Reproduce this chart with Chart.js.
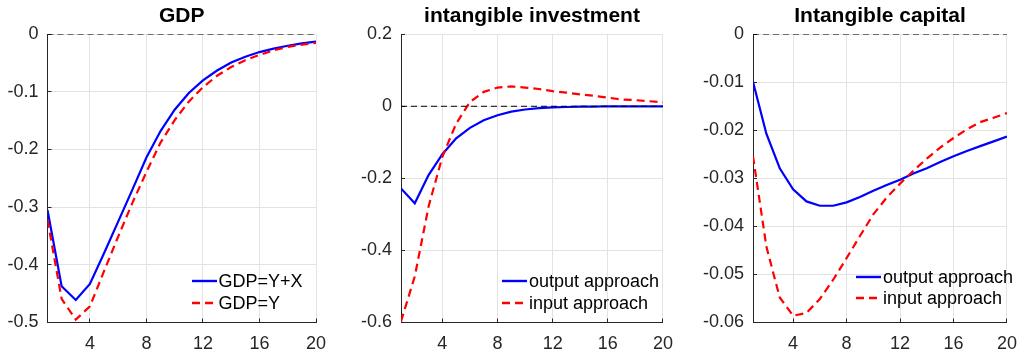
<!DOCTYPE html>
<html>
<head>
<meta charset="utf-8">
<script src="https://cdn.jsdelivr.net/npm/chart.js@4/dist/chart.umd.min.js"></script>
<style>
  body { margin: 0; background: #fff; }
  #wrap { position: relative; width: 1032px; height: 352px; font-family: "Liberation Sans", Arial, sans-serif; }
  .panel { position: absolute; top: 0; width: 344px; height: 352px; }
  .legend { position: absolute; font-size: 18px; color: #000; }
  .legend div { position: absolute; white-space: nowrap; height: 22px; line-height: 22px; }
  .legend svg { position: absolute; left: 0; top: 0; }
  .legend span { position: absolute; top: 0; }
</style>
</head>
<body>
<div id="wrap">
  <div class="panel" style="left:0"><canvas id="gdpChart" width="344" height="352"></canvas></div>
  <div class="panel" style="left:344px"><canvas id="invChart" width="344" height="352"></canvas></div>
  <div class="panel" style="left:688px"><canvas id="capChart" width="344" height="352"></canvas></div>
</div>
<script>
const periods = [1, 2, 3, 4, 5, 6, 7, 8, 9, 10, 11, 12, 13, 14, 15, 16, 17, 18, 19, 20];
const xTicks = [4, 8, 12, 16, 20];

// GDP
const gdpYX = [-0.305, -0.437, -0.461, -0.433, -0.380, -0.325, -0.270, -0.214, -0.168, -0.131,
  -0.102, -0.080, -0.063, -0.049, -0.039, -0.031, -0.025, -0.020, -0.016, -0.013];
const gdpY = [-0.322, -0.459, -0.495, -0.472, -0.411, -0.351, -0.293, -0.239, -0.188, -0.149,
  -0.117, -0.092, -0.072, -0.057, -0.045, -0.036, -0.028, -0.022, -0.018, -0.015];
const gdpTicks = [-0.5, -0.4, -0.3, -0.2, -0.1, 0];

// intangible investment
const invOutput = [-0.228, -0.269, -0.191, -0.133, -0.089, -0.060, -0.039, -0.025, -0.015, -0.009,
  -0.005, -0.003, -0.002, -0.001, -0.001, 0, 0, 0, 0, 0];
const invInput = [-0.597, -0.472, -0.278, -0.140, -0.048, 0.012, 0.040, 0.052, 0.055, 0.052,
  0.048, 0.042, 0.038, 0.033, 0.029, 0.024, 0.019, 0.017, 0.014, 0.011];
const invTicks = [-0.6, -0.4, -0.2, 0, 0.2];

// Intangible capital
const capOutput = [-0.0099, -0.0207, -0.0279, -0.0323, -0.0348, -0.0357, -0.0357, -0.0350, -0.0339, -0.0326,
  -0.0314, -0.0303, -0.0290, -0.0279, -0.0266, -0.0254, -0.0243, -0.0233, -0.0223, -0.0213];
const capInput = [-0.0254, -0.0442, -0.0548, -0.0586, -0.0580, -0.0551, -0.0511, -0.0466, -0.0420, -0.0375,
  -0.0340, -0.0311, -0.0284, -0.0259, -0.0236, -0.0216, -0.0198, -0.0183, -0.0174, -0.0164];
const capTicks = [-0.06, -0.05, -0.04, -0.03, -0.02, -0.01, 0];

const zeroLine = [0, 0];
const zeroX = [1, 20];

const FONT = '"Liberation Sans", Arial, sans-serif';
const AXIS = '#262626';
const GRID = '#e3e3e3';

const pts = (xs, ys) => xs.map((x, i) => ({ x: x, y: ys[i] }));

// centre the title over the plot area, as matlab does
const titleOverArea = {
  id: 'titleOverArea',
  afterLayout(chart) {
    if (chart.titleBlock) {
      chart.titleBlock.left = chart.chartArea.left;
      chart.titleBlock.right = chart.chartArea.right;
    }
  }
};

function makeChart(id, title, s1, s2, yTicks, yWidth, padRight) {
  const ctx = document.getElementById(id).getContext('2d');
  return new Chart(ctx, {
    type: 'line',
    data: {
      datasets: [
        {
          data: pts(zeroX, zeroLine),
          borderColor: '#000', borderWidth: 1, borderDash: [6, 4],
          pointRadius: 0
        },
        {
          data: pts(periods, s2),
          borderColor: '#ff0000', borderWidth: 2.2, borderDash: [8, 5],
          pointRadius: 0
        },
        {
          data: pts(periods, s1),
          borderColor: '#0000ff', borderWidth: 2.2,
          pointRadius: 0
        }
      ]
    },
    options: {
      responsive: false,
      animation: false,
      layout: { padding: { left: 0, right: padRight, top: 0, bottom: 0 } },
      plugins: {
        legend: { display: false },
        tooltip: { enabled: false },
        title: {
          display: true, text: title, color: '#000',
          font: { family: FONT, size: 21, weight: 'bold' },
          padding: { top: 4, bottom: 5 }
        }
      },
      scales: {
        x: {
          type: 'linear', min: 1, max: 20,
          afterBuildTicks: s => { s.ticks = xTicks.map(v => ({ value: v })); },
          afterFit: s => { s.height = 29.5; },
          ticks: { color: AXIS, padding: 15, font: { family: FONT, size: 18 }, maxRotation: 0 },
          grid: { color: GRID, drawTicks: true, tickLength: -4, tickColor: AXIS },
          border: { color: AXIS, width: 1 }
        },
        y: {
          min: yTicks[0], max: yTicks[yTicks.length - 1],
          afterBuildTicks: s => { s.ticks = yTicks.map(v => ({ value: v })); },
          afterFit: s => { s.width = yWidth; },
          ticks: {
            color: AXIS, padding: 13, font: { family: FONT, size: 18 },
            callback: v => String(+v.toFixed(3))
          },
          grid: { color: GRID, drawTicks: true, tickLength: -4, tickColor: AXIS },
          border: { color: AXIS, width: 1 }
        }
      }
    },
    plugins: [titleOverArea]
  });
}

makeChart('gdpChart', 'GDP', gdpYX, gdpY, gdpTicks, 47.5, 28);
makeChart('invChart', 'intangible investment', invOutput, invInput, invTicks, 57, 19);
makeChart('capChart', 'Intangible capital', capOutput, capInput, capTicks, 65, 11);

// legends inside the plot area (bottom right)
function addLegend(left, top, labels) {
  const box = document.createElement('div');
  box.className = 'legend';
  box.style.left = left + 'px';
  box.style.top = top + 'px';
  labels.forEach((lab, i) => {
    const row = document.createElement('div');
    row.style.top = (i * 21.7) + 'px';
    const dash = lab.dash ? 'stroke-dasharray="8 5"' : '';
    row.innerHTML = '<svg width="26" height="22"><line x1="0" y1="11" x2="25" y2="11" stroke="' + lab.color +
      '" stroke-width="2.4" ' + dash + '/></svg><span style="left:27px">' + lab.text + '</span>';
    box.appendChild(row);
  });
  document.getElementById('wrap').appendChild(box);
}
addLegend(191.5, 270, [{ text: 'GDP=Y+X', color: '#0000ff' }, { text: 'GDP=Y', color: '#ff0000', dash: true }]);
addLegend(502, 270, [{ text: 'output approach', color: '#0000ff' }, { text: 'input approach', color: '#ff0000', dash: true }]);
addLegend(856, 265.7, [{ text: 'output approach', color: '#0000ff' }, { text: 'input approach', color: '#ff0000', dash: true }]);
</script>
</body>
</html>
